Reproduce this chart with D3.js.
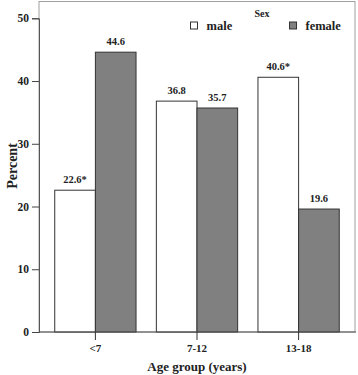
<!DOCTYPE html>
<html><head><meta charset="utf-8">
<script src="https://cdn.jsdelivr.net/npm/d3@7"></script>
<style>body{margin:0;background:#fff}svg{display:block}text{font-family:"Liberation Serif","DejaVu Serif",serif;font-weight:bold;fill:#222}</style>
</head><body><div id="c"></div>
<script>
const categories = ["<7", "7-12", "13-18"];
const seriesNames = ["male", "female"];
const maleValues = [22.6, 36.8, 40.6];
const femaleValues = [44.6, 35.7, 19.6];
const maleLabels = ["22.6*", "36.8", "40.6*"];
const femaleLabels = ["44.6", "35.7", "19.6"];
const yTicks = [0, 10, 20, 30, 40, 50];

const W = 358, H = 375;
const L = 39, R = 355, T = 1.5, B = 332;
const svg = d3.select("#c").append("svg").attr("width", W).attr("height", H);

const x = d3.scaleBand().domain(categories).range([L, R]).paddingInner(0.2).paddingOuter(0.155);
const xs = d3.scaleBand().domain(seriesNames).range([0, x.bandwidth()]);
const y = d3.scaleLinear().domain([0, 50]).range([B, 18.3]);
const colors = {male: "#ffffff", female: "#808080"};

// frame
svg.append("rect").attr("x", L).attr("y", T).attr("width", R - L).attr("height", B - T)
  .attr("fill", "none").attr("stroke", "#a0a0a0").attr("stroke-width", 1);

const data = categories.map((c, i) => ({cat: c, vals: [
  {s: "male", v: maleValues[i], lab: maleLabels[i]},
  {s: "female", v: femaleValues[i], lab: femaleLabels[i]}]}));

const g = svg.selectAll("g.grp").data(data).join("g").attr("class", "grp")
  .attr("transform", d => `translate(${x(d.cat)},0)`);
g.selectAll("rect").data(d => d.vals).join("rect")
  .attr("x", d => xs(d.s)).attr("y", d => y(d.v))
  .attr("width", xs.bandwidth()).attr("height", d => y(0) - y(d.v))
  .attr("fill", d => colors[d.s]).attr("stroke", "#333").attr("stroke-width", 1);
g.selectAll("text").data(d => d.vals).join("text")
  .attr("x", d => xs(d.s) + xs.bandwidth() / 2).attr("y", d => y(d.v) - 7)
  .attr("text-anchor", "middle").attr("font-size", 10.5).text(d => d.lab);

// y axis
const ya = svg.append("g").attr("transform", `translate(${L},0)`)
  .call(d3.axisLeft(y).tickValues(yTicks).tickSize(7).tickPadding(3).tickFormat(d3.format("d")));
ya.select(".domain").attr("stroke", "#555");
ya.selectAll(".tick line").attr("stroke", "#444");
ya.selectAll(".tick text").attr("font-size", 11.5).attr("font-family", '"Liberation Serif",serif').attr("font-weight", "bold").attr("fill", "#222");

// x axis
const xa = svg.append("g").attr("transform", `translate(0,${B})`)
  .call(d3.axisBottom(x).tickSize(8).tickPadding(4).tickSizeOuter(0));
xa.select(".domain").attr("stroke", "#555").attr("d", `M${L},0H${R + 1}`);
xa.selectAll(".tick line").attr("stroke", "#333");
xa.selectAll(".tick text").attr("font-size", 11).attr("font-family", '"Liberation Serif",serif').attr("font-weight", "bold").attr("fill", "#222");

svg.append("text").attr("x", (L + R) / 2).attr("y", 371).attr("text-anchor", "middle")
  .attr("font-size", 13).text("Age group (years)");
svg.append("text").attr("transform", "translate(17,166) rotate(-90)").attr("text-anchor", "middle")
  .attr("font-size", 14).text("Percent");

// legend
svg.append("text").attr("x", 262).attr("y", 17).attr("text-anchor", "middle").attr("font-size", 10).text("Sex");
const legendX = [190.5, 289.5];
const lg = svg.selectAll("g.leg").data(seriesNames).join("g").attr("class", "leg")
  .attr("transform", (d, i) => `translate(${legendX[i]},22)`);
lg.append("rect").attr("x", 0).attr("y", 0).attr("width", 7).attr("height", 7)
  .attr("fill", d => colors[d]).attr("stroke", "#333");
lg.append("text").attr("x", 16).attr("y", 7.5).attr("font-size", 12.5).text(d => d);
</script></body></html>
